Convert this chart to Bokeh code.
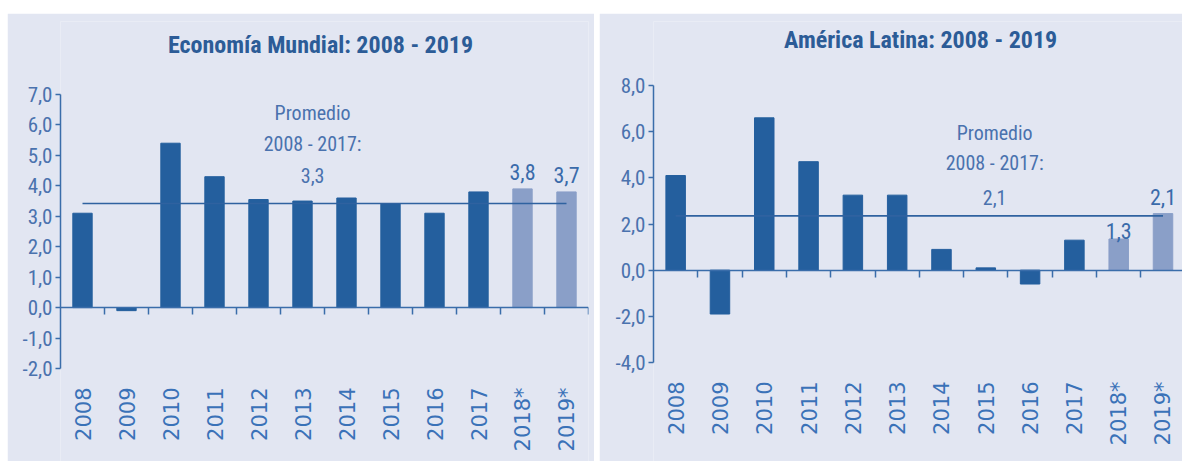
import math
from bokeh.plotting import figure
from bokeh.models import Range1d, LinearAxis, FixedTicker, ColumnDataSource, Spacer
from bokeh.layouts import row, column
from bokeh.core.properties import value
from bokeh.embed import file_html
from bokeh.resources import INLINE

years = ["2008", "2009", "2010", "2011", "2012", "2013", "2014", "2015", "2016", "2017", "2018*", "2019*"]
world = [3.1, -0.1, 5.4, 4.3, 3.55, 3.5, 3.6, 3.4, 3.1, 3.8, 3.9, 3.8]
latam = [4.1, -1.9, 6.6, 4.7, 3.25, 3.25, 0.9, 0.1, -0.6, 1.3, 1.35, 2.45]
world_avg = 3.42
latam_avg = 2.35
world_avg_label = "3,3"
latam_avg_label = "2,1"
world_fc_labels = ["3,8", "3,7"]
latam_fc_labels = ["1,3", "2,1"]
world_ticks = [-2, -1, 0, 1, 2, 3, 4, 5, 6, 7]
latam_ticks = [-4, -2, 0, 2, 4, 6, 8]

BG = "#E2E6F2"
DARK = "#245F9E"
LIGHT = "#8A9FC8"
AXIS = "#3A6DAA"
TXT = "#4A72AE"
TITLE_C = "#2C5C97"
NARROW = "Roboto Condensed, Roboto"


def fmt(v):
    return ("%.1f" % v).replace(".", ",")


def make(title, vals, avg, avg_label, fc_labels, fc_offsets, ticks, yr, xmax, width,
         bl, br, title_pos, note_x, note_y):
    n = len(years)
    ymin_axis, ymax_axis = ticks[0], ticks[-1]
    p = figure(width=width, height=448, x_range=Range1d(0, xmax), y_range=Range1d(*yr),
               output_backend="svg", toolbar_location=None,
               min_border_left=bl, min_border_right=br, min_border_top=8, min_border_bottom=0)
    p.background_fill_color = BG
    p.border_fill_color = BG
    p.outline_line_color = None
    p.grid.grid_line_color = None
    p.xaxis.visible = False
    p.yaxis.visible = False

    xs = [i + 0.5 for i in range(n)]

    # title
    p.text(x=[title_pos[0]], y=[title_pos[1]], text=[title], text_font=value(NARROW),
           text_font_size="24px", text_font_style="bold", text_color=TITLE_C,
           text_align="center", text_baseline="middle")

    colors = [DARK] * (n - 2) + [LIGHT] * 2
    src = ColumnDataSource(dict(x=xs, top=vals, color=colors))
    p.vbar(x="x", top="top", bottom=0, width=0.44, color="color", source=src)

    # y axis
    ya = LinearAxis(ticker=FixedTicker(ticks=ticks), bounds=(ymin_axis, ymax_axis),
                    major_label_overrides={t_: fmt(t_) for t_ in ticks})
    ya.axis_line_color = AXIS
    ya.axis_line_width = 1.5
    ya.major_tick_line_color = AXIS
    ya.major_tick_line_width = 1.5
    ya.major_tick_out = 5
    ya.major_tick_in = 0
    ya.minor_tick_line_color = None
    ya.major_label_text_font = NARROW
    ya.major_label_text_font_size = "21px"
    ya.major_label_text_color = TXT
    ya.major_label_standoff = 3
    p.add_layout(ya, "left")

    # zero axis with boundary ticks
    za = LinearAxis(ticker=FixedTicker(ticks=[], minor_ticks=list(range(1, n + 1))),
                    fixed_location=0, bounds=(0, n))
    za.axis_line_color = AXIS
    za.axis_line_width = 1.5
    za.major_tick_line_color = None
    za.major_tick_out = 0
    za.major_tick_in = 0
    za.minor_tick_line_color = AXIS
    za.minor_tick_line_width = 1.5
    za.minor_tick_out = 0
    za.minor_tick_in = 7
    za.major_label_standoff = 0
    za.major_label_text_font_size = "0px"
    p.add_layout(za, "above")

    # category labels
    p.text(x=xs, y=[ymin_axis] * n, text=years, y_offset=19, angle=math.pi / 2,
           text_font=value("DejaVu Sans"), text_font_size="21px", text_color="#3A72B8",
           text_align="right", text_baseline="middle")

    # average line
    p.line(x=[xs[0], xs[-1]], y=[avg, avg], line_color="#2F62A0", line_width=1.6)

    # average note
    p.text(x=[note_x] * 3, y=note_y, text=["Promedio", "2008 - 2017:", avg_label],
           text_font=value(NARROW), text_font_size="20px", text_color=TXT,
           text_align="center", text_baseline="middle")

    # forecast labels
    fsrc = ColumnDataSource(dict(x=xs[-2:], y=vals[-2:], t=fc_labels, off=fc_offsets))
    p.text(x="x", y="y", text="t", y_offset="off", source=fsrc,
           text_font=value(NARROW), text_font_size="22px", text_color="#3A6BAA",
           text_align="center", text_baseline="alphabetic")
    return p


left = make("Economía Mundial: 2008 - 2019", world, world_avg, world_avg_label, world_fc_labels,
            [-17, -17], world_ticks, (-5.055, 9.398), 12, 587, 53, 6, (5.91, 8.64),
            5.73, [6.38, 5.39, 4.34])
right = make("América Latina: 2008 - 2019", latam, latam_avg, latam_avg_label, latam_fc_labels,
             [-8, -17], latam_ticks, (-8.289, 10.773), 11.94, 583, 54, 0, (6.03, 9.95),
             7.7, [5.96, 4.65, 3.13])

layout = column(Spacer(height=13),
                row(Spacer(width=7), left, Spacer(width=5), right, spacing=0),
                spacing=0)
open("out.html", "w").write(file_html(layout, INLINE))
